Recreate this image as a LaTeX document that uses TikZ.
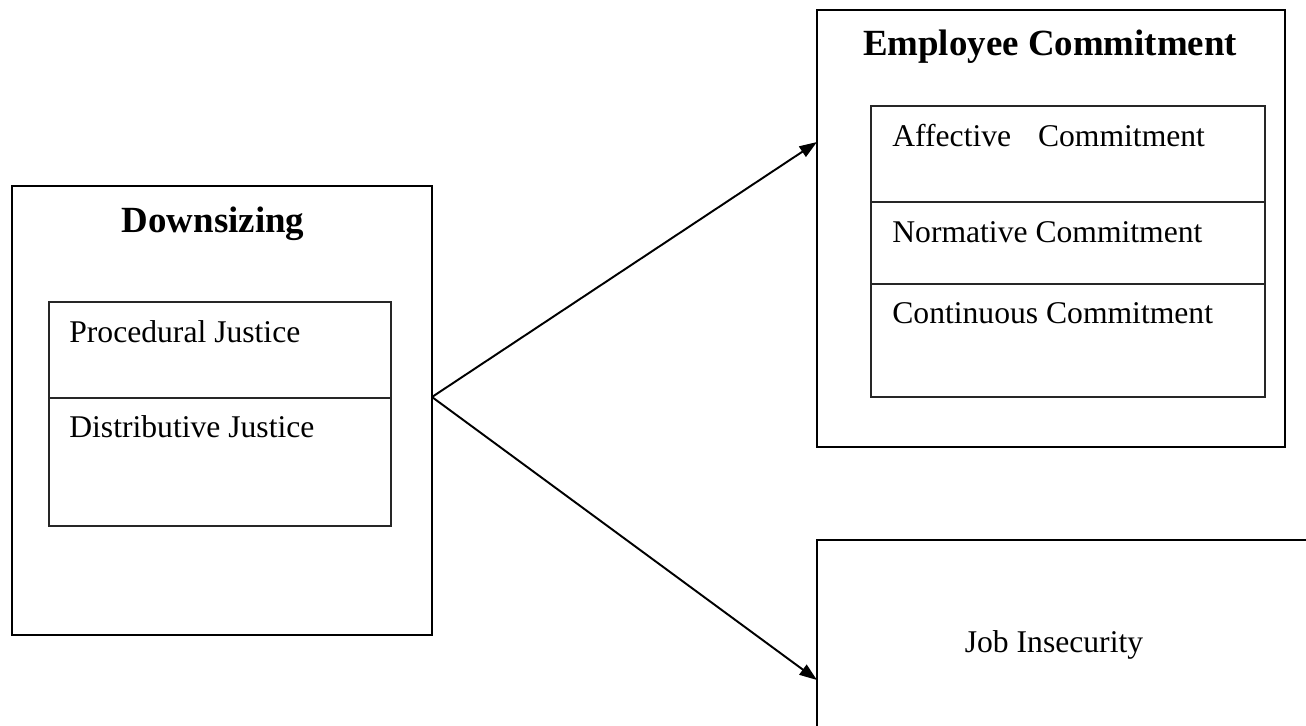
\documentclass[tikz,border=0pt]{standalone}
\usepackage{fontspec}
\setmainfont{Liberation Serif}
\usepackage{tikz}
\usetikzlibrary{arrows.meta}

\tikzset{
    outer/.style={draw=black, line width=1.1pt, inner sep=0pt, outer sep=0pt},
    inner/.style={draw=black!85, line width=0.7pt, inner sep=0pt, outer sep=0pt},
    head/.style={font=\fontsize{21}{25}\selectfont\bfseries, anchor=base},
    item/.style={font=\fontsize{18}{22}\selectfont, anchor=base west, inner sep=0pt}
}

\begin{document}
\begin{tikzpicture}[x=0.02cm, y=-0.02cm]
\useasboundingbox (0,0) rectangle (1306,725);
\clip (0,0) rectangle (1306,725);
%\draw[help lines] (0,0) grid[step=100] (1306,725);
\begin{scope}
    % Downsizing
    \node[outer, minimum width=8.4cm, minimum height=8.98cm] (D) at (222,410.5) {};
    \node[inner, minimum width=6.84cm, minimum height=1.92cm] (P) at (220,350) {};
    \node[inner, minimum width=6.84cm, minimum height=2.56cm] (Q) at (220,462) {};
    \node[head] (d) at (213,232) {Downsizing};
    \node[item] (p) at (69,342) {Procedural Justice};
    \node[item] (q) at (69,437) {Distributive Justice};

    % Employee Commitment
    \node[outer, minimum width=9.36cm, minimum height=8.74cm] (E) at (1051,228.5) {};
    \node[inner, minimum width=7.88cm, minimum height=1.92cm] (A) at (1068,154) {};
    \node[inner, minimum width=7.88cm, minimum height=1.64cm] (N) at (1068,243) {};
    \node[inner, minimum width=7.88cm, minimum height=2.26cm] (C) at (1068,340.5) {};
    \node[head] (e) at (1050,55) {Employee Commitment};
    \node[item] (a) at (892,146) {Affective\hspace{0.6em} Commitment};
    \node[item] (n) at (892,242) {Normative Commitment};
    \node[item] (c) at (892,323) {Continuous Commitment};

    % Job Insecurity
    \node[outer, minimum width=10.06cm, minimum height=4cm] (J) at (1068.5,640) {};
    \node[item, anchor=base] (j) at (1054,652) {Job Insecurity};

    \coordinate (S) at (432,397);
    \coordinate (T) at (817,142);
    \coordinate (U) at (817,680);
\end{scope}

\begin{scope}[>={Triangle[length=10pt, width=7pt, black]},
              every edge/.style={draw=black, line width=1.1pt}]
    \path [->] (S) edge (T);
    \path [->] (S) edge (U);
\end{scope}
\end{tikzpicture}
\end{document}
